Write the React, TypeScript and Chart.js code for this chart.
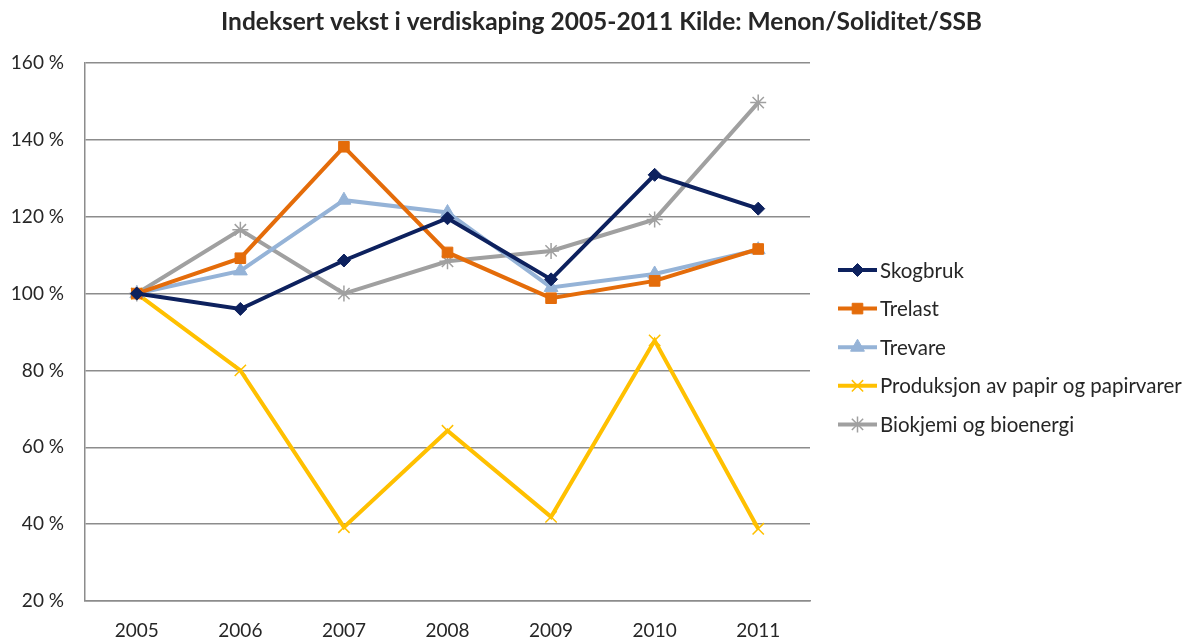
import React, { useEffect, useRef } from "react";
import { Chart, registerables, PointElement } from "chart.js";

Chart.register(...registerables);

const years = ["2005", "2006", "2007", "2008", "2009", "2010", "2011"];
const skogbruk = [100, 96, 108.6, 119.6, 103.7, 130.9, 122.1];
const trelast = [100, 109.2, 138.2, 110.7, 98.8, 103.3, 111.6];
const trevare = [100, 105.9, 124.3, 121.1, 101.6, 105.1, 111.4];
const papir = [100, 80, 39.2, 64.3, 41.9, 87.8, 38.8];
const biokjemi = [100, 116.6, 100, 108.4, 111.1, 119.3, 149.7];
const yTicks = [20, 40, 60, 80, 100, 120, 140, 160];
const titleText = "Indeksert vekst i verdiskaping 2005-2011 Kilde: Menon/Soliditet/SSB";

const FONT = "Lato, 'Open Sans', sans-serif";
const TEXT = "#262626";

const legendPlugin = {
  id: "lineLegend",
  afterDraw(chart: any) {
    const ctx = chart.ctx;
    ctx.save();
    ctx.fillStyle = TEXT;
    ctx.font = `bold 24.5px ${FONT}`;
    ctx.textAlign = "center";
    ctx.textBaseline = "middle";
    ctx.fillText(titleText, chart.width / 2 + 4, 22);
    chart.data.datasets.forEach((ds: any, i: number) => {
      const y = 270 + i * 38.6;
      ctx.strokeStyle = ds.borderColor;
      ctx.lineWidth = ds.borderWidth;
      ctx.beginPath();
      ctx.moveTo(838, y);
      ctx.lineTo(877, y);
      ctx.stroke();
      const pt = new (PointElement as any)({
        x: 857.5,
        y,
        options: {
          pointStyle: ds.pointStyle,
          radius: ds.pointRadius,
          rotation: 0,
          borderWidth: ds.pointBorderWidth,
          backgroundColor: ds.pointBackgroundColor,
          borderColor: ds.pointBorderColor,
        },
      });
      pt.draw(ctx);
      ctx.fillStyle = TEXT;
      ctx.font = `20.5px ${FONT}`;
      ctx.textAlign = "left";
      ctx.textBaseline = "middle";
      ctx.fillText(ds.label, 880, y + 1);
    });
    ctx.restore();
  },
};

function mk(label: string, data: number[], color: string, style: string, radius: number, bw: number, fill: boolean) {
  return {
    label,
    data,
    borderColor: color,
    backgroundColor: color,
    borderWidth: 4,
    pointStyle: style,
    pointRadius: radius,
    pointHoverRadius: radius,
    pointBorderWidth: bw,
    pointBackgroundColor: fill ? color : "rgba(0,0,0,0)",
    pointBorderColor: color,
    tension: 0,
  };
}

export default function App() {
  const ref = useRef<HTMLCanvasElement>(null);
  useEffect(() => {
    if (!ref.current) return;
    const chart = new Chart(ref.current, {
      type: "line",
      data: {
        labels: years,
        datasets: [
          mk("Skogbruk", skogbruk, "#0d215e", "rectRot", 6.5, 1, true),
          mk("Trelast", trelast, "#e46c0a", "rect", 7.5, 1, true),
          mk("Trevare", trevare, "#95b3d7", "triangle", 8, 1, true),
          mk("Produksjon av papir og papirvarer", papir, "#ffc000", "crossRot", 8, 1.5, false),
          mk("Biokjemi og bioenergi", biokjemi, "#a0a0a0", "star", 8, 1.5, false),
        ] as any,
      },
      options: {
        responsive: false,
        animation: false,
        layout: { padding: { left: 0, right: 385, top: 63, bottom: 0 } },
        plugins: {
          legend: { display: false },
          tooltip: { enabled: false },
          title: { display: false },
        },
        scales: {
          x: {
            offset: true,
            grid: { display: false, drawTicks: false },
            border: { display: true, color: "#8c8c8c", width: 1.5 },
            ticks: { color: TEXT, font: { family: FONT, size: 19 }, padding: 18 },
            afterFit(scale: any) {
              scale.height = 40;
            },
          },
          y: {
            min: 20,
            max: 160,
            afterBuildTicks(scale: any) {
              scale.ticks = yTicks.map((v) => ({ value: v }));
            },
            grid: { color: "#8c8c8c", lineWidth: 1.5, drawTicks: false },
            border: { display: true, color: "#8c8c8c", width: 1.5 },
            ticks: {
              color: TEXT,
              font: { family: FONT, size: 19 },
              padding: 21,
              callback: (v: any) => `${v} %`,
            },
            afterFit(scale: any) {
              scale.width = 85;
            },
          },
        },
      },
      plugins: [legendPlugin],
    });
    return () => chart.destroy();
  }, []);
  return (
    <div style={{ position: "absolute", left: 0, top: 0, width: 1195, height: 641, background: "#fff" }}>
      <canvas ref={ref} width={1195} height={641} style={{ width: 1195, height: 641 }} />
    </div>
  );
}
